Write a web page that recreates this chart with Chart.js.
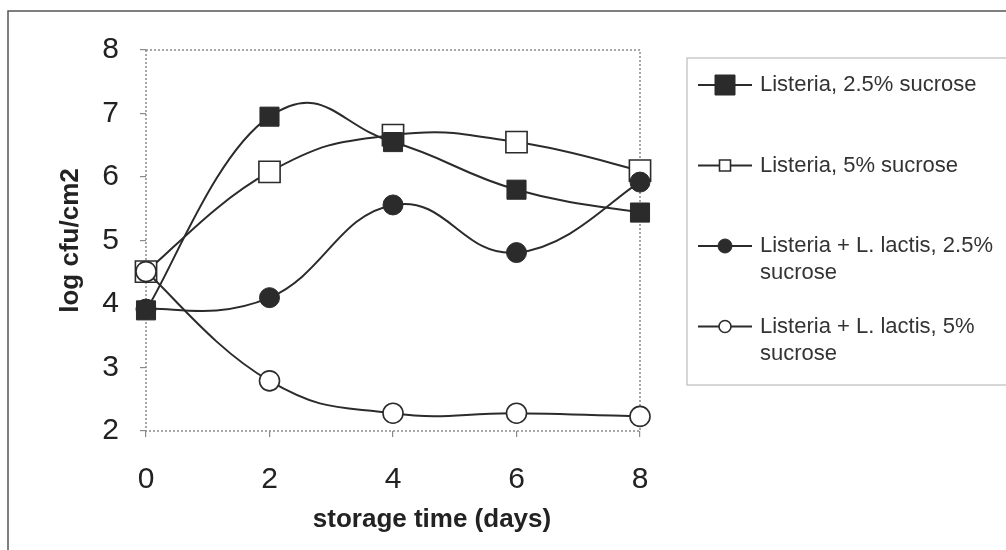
<!DOCTYPE html>
<html>
<head>
<meta charset="utf-8">
<script src="https://cdn.jsdelivr.net/npm/chart.js@4.4.1/dist/chart.umd.min.js"></script>
<style>
  html, body { margin: 0; padding: 0; background: #ffffff; }
  #wrap { width: 1006px; height: 550px; }
</style>
</head>
<body>
<div id="wrap"><canvas id="chart" width="1006" height="550"></canvas></div>
<script>
// storage time (days)
const days = [0, 2, 4, 6, 8];

// log cfu/cm2
const listeria25 = [3.90, 6.95, 6.55, 5.80, 5.44];
const listeria5 = [4.51, 6.08, 6.66, 6.55, 6.10];
const lactis25 = [3.92, 4.10, 5.56, 4.81, 5.92];
const lactis5 = [4.51, 2.79, 2.28, 2.28, 2.23];

const seriesNames = [
    'Listeria, 2.5% sucrose',
    'Listeria, 5% sucrose',
    'Listeria + L. lactis, 2.5% sucrose',
    'Listeria + L. lactis, 5% sucrose'
];

const yTicks = [2, 3, 4, 5, 6, 7, 8];
const xTicks = [0, 2, 4, 6, 8];

const FONT = '"Liberation Sans", Arial, Helvetica, sans-serif';
const INK = '#2b2b2b';

function toPoints(vals) {
    return days.map((d, i) => ({ x: d, y: vals[i] }));
}

function makeSet(label, vals, style, filled, radius, order) {
    return {
        label: label,
        data: toPoints(vals),
        borderColor: INK,
        borderWidth: 2,
        tension: 0.5,
        clip: false,
        pointStyle: style,
        pointRadius: radius,
        pointBackgroundColor: filled ? INK : '#ffffff',
        pointBorderColor: INK,
        pointBorderWidth: filled ? 1 : 1.6,
        order: order,
        legendFilled: filled
    };
}

// plain catmull-rom style smoothing (the old plotting package did not weight by distance)
const smoothPlugin = {
    id: 'smooth',
    beforeDatasetDraw(chart, args) {
        const meta = args.meta;
        meta.dataset.updateControlPoints(chart.chartArea, meta.iScale.axis);
        const pts = meta.data;
        const k = 0.22;
        for (let i = 0; i < pts.length; i++) {
            const p = pts[i];
            const prev = pts[i - 1] || p;
            const next = pts[i + 1] || p;
            const dx = next.x - prev.x;
            const dy = next.y - prev.y;
            p.cp1x = p.x - k * dx;
            p.cp1y = p.y - k * dy;
            p.cp2x = p.x + k * dx;
            p.cp2y = p.y + k * dy;
        }
    }
};

// frame, legend and x title drawn on the canvas
const decorPlugin = {
    id: 'decor',
    beforeDatasetsDraw(chart) {
        const ctx = chart.ctx;
        const a = chart.chartArea;
        ctx.save();
        // outer figure frame
        ctx.strokeStyle = '#555';
        ctx.lineWidth = 1.5;
        ctx.beginPath();
        ctx.moveTo(8, 560);
        ctx.lineTo(8, 11);
        ctx.lineTo(1010, 11);
        ctx.stroke();
        // dotted plot box
        ctx.strokeStyle = '#8a8a8a';
        ctx.lineWidth = 1.5;
        ctx.setLineDash([2, 2]);
        ctx.strokeRect(a.left, a.top, a.right - a.left, a.bottom - a.top);
        ctx.restore();
    },
    afterDraw(chart) {
        const ctx = chart.ctx;
        ctx.save();
        // x axis title
        ctx.fillStyle = '#222';
        ctx.font = 'bold 26px ' + FONT;
        ctx.textAlign = 'center';
        ctx.textBaseline = 'middle';
        ctx.fillText('storage time (days)', 432, 520);

        // legend box
        ctx.strokeStyle = '#bdbdbd';
        ctx.lineWidth = 1.2;
        ctx.strokeRect(687, 58, 340, 327);

        ctx.font = '22px ' + FONT;
        ctx.textAlign = 'left';
        const legendSizes = [10, 5.5, 7, 6];
        chart.data.datasets.forEach((ds, i) => {
            const y = 85 + i * 80.5;
            ctx.strokeStyle = INK;
            ctx.lineWidth = 2;
            ctx.beginPath();
            ctx.moveTo(698, y);
            ctx.lineTo(752, y);
            ctx.stroke();
            const r = legendSizes[i];
            ctx.fillStyle = ds.legendFilled ? INK : '#ffffff';
            ctx.lineWidth = ds.legendFilled ? 1 : 1.6;
            ctx.beginPath();
            if (ds.pointStyle === 'rect') {
                ctx.rect(725 - r, y - r, 2 * r, 2 * r);
            } else {
                ctx.arc(725, y, r, 0, Math.PI * 2);
            }
            ctx.fill();
            ctx.stroke();

            // wrap label to the box width
            const words = ds.label.split(' ');
            const lines = [];
            let line = '';
            words.forEach(w => {
                const test = line ? line + ' ' + w : w;
                if (ctx.measureText(test).width > 236 && line) {
                    lines.push(line);
                    line = w;
                } else {
                    line = test;
                }
            });
            lines.push(line);
            ctx.fillStyle = '#333';
            lines.forEach((t, k) => ctx.fillText(t, 760, y + k * 27));
        });
        ctx.restore();
    }
};

const ctx = document.getElementById('chart').getContext('2d');
new Chart(ctx, {
    type: 'line',
    data: {
        datasets: [
            makeSet(seriesNames[0], listeria25, 'rect', true, 13.5, 0),
            makeSet(seriesNames[1], listeria5, 'rect', false, 15, 3),
            makeSet(seriesNames[2], lactis25, 'circle', true, 10, 1),
            makeSet(seriesNames[3], lactis5, 'circle', false, 10, 2)
        ]
    },
    options: {
        responsive: false,
        animation: false,
        layout: { padding: { left: 55, top: 50, right: 366, bottom: 14 } },
        plugins: {
            legend: { display: false },
            tooltip: { enabled: false }
        },
        scales: {
            x: {
                type: 'linear',
                min: 0,
                max: 8,
                afterFit: s => { s.height = 105; },
                afterBuildTicks: s => { s.ticks = xTicks.map(v => ({ value: v })); },
                border: { display: false },
                grid: { drawOnChartArea: false, drawTicks: true, tickLength: 6, color: '#8a8a8a', lineWidth: 1.2 },
                ticks: { color: '#222', padding: 25, font: { family: FONT, size: 30 } }
            },
            y: {
                min: 2,
                max: 8,
                afterFit: s => { s.width = 91; },
                afterBuildTicks: s => { s.ticks = yTicks.map(v => ({ value: v })); },
                border: { display: false },
                grid: { drawOnChartArea: false, drawTicks: true, tickLength: 6, color: '#8a8a8a', lineWidth: 1.2 },
                ticks: { color: '#222', padding: 21, font: { family: FONT, size: 30 } },
                title: {
                    display: true,
                    text: 'log cfu/cm2',
                    color: '#222',
                    font: { family: FONT, size: 26, weight: 'bold' },
                    padding: 0
                }
            }
        }
    },
    plugins: [smoothPlugin, decorPlugin]
});
</script>
</body>
</html>
